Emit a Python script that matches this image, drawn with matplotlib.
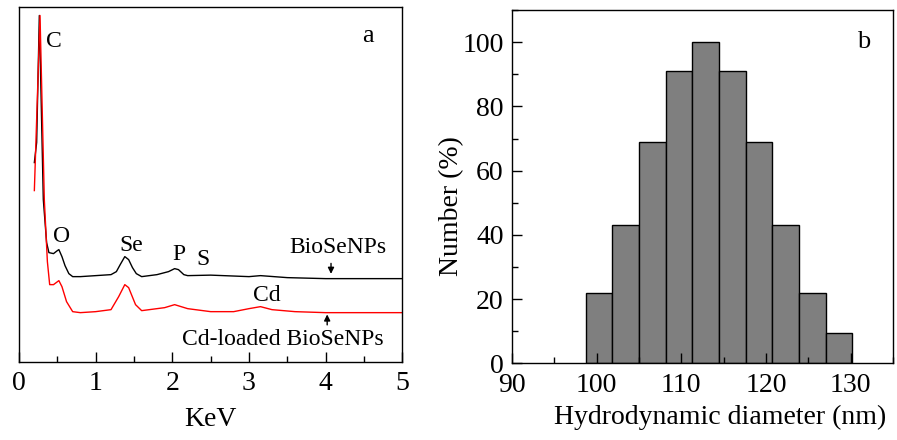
import matplotlib
matplotlib.use("Agg")
import matplotlib.pyplot as plt
from matplotlib.ticker import MultipleLocator

plt.rcParams["font.family"] = ["Liberation Serif", "DejaVu Serif"]

# EDS spectra (arbitrary intensity)
kev_black = [0.20, 0.23, 0.265, 0.317, 0.36, 0.39, 0.45, 0.50, 0.52, 0.56, 0.60, 0.65,
             0.70, 0.80, 1.00, 1.20, 1.27, 1.32, 1.38, 1.43, 1.48, 1.53, 1.60, 1.80,
             1.95, 2.03, 2.08, 2.15, 2.20, 2.50, 3.00, 3.15, 3.50, 4.00, 5.00]
int_black = [199, 219, 346, 162, 119, 109, 108, 111, 112, 105, 96, 88,
             85, 85, 86, 87, 90, 97, 105, 102, 94, 88, 85, 87,
             90, 93, 92, 87, 86, 86.5, 85, 86, 84, 83, 83]

kev_red = [0.20, 0.274, 0.33, 0.37, 0.40, 0.45, 0.52, 0.56, 0.62, 0.70, 0.80, 1.00,
           1.20, 1.30, 1.38, 1.43, 1.52, 1.60, 1.90, 2.03, 2.20, 2.50, 2.80, 3.00,
           3.15, 3.30, 3.60, 4.00, 5.00]
int_red = [171, 346, 162, 100, 77, 77, 81, 75, 60, 50, 49, 50,
           52, 65, 77, 74, 57, 51, 54, 57, 53, 50, 50, 53,
           55, 52, 50, 49, 49]

# size distribution histogram
bin_left = [98.7, 101.85, 105.0, 108.15, 111.3, 114.45, 117.6, 120.75, 123.9, 127.05]
bin_width = 3.15
number_pct = [22, 43, 69, 91, 100, 91, 69, 43, 22, 9.5]

fig = plt.figure(figsize=(8.97, 4.40), dpi=100)
ax1 = fig.add_axes([0.0212, 0.178, 0.4273, 0.805])
ax2 = fig.add_axes([0.5708, 0.174, 0.4247, 0.803])

# ---- panel a ----
ax1.plot(kev_black, int_black, color="black", linewidth=1.0)
ax1.plot(kev_red, int_red, color="#ff0000", linewidth=1.0)
ax1.set_xlim(0, 5)
ax1.set_ylim(0, 354)
ax1.set_yticks([])
ax1.xaxis.set_major_locator(MultipleLocator(1))
ax1.xaxis.set_minor_locator(MultipleLocator(0.5))
ax1.tick_params(axis="x", which="both", direction="in", top=False, labelsize=20, pad=7)
ax1.tick_params(axis="x", which="major", length=7, width=1)
ax1.tick_params(axis="x", which="minor", length=4, width=1)
ax1.set_xlabel("KeV", fontsize=20)
ax1.xaxis.set_label_coords(0.5, -0.128)

fs = 17
ax1.text(0.45, 320, "C", fontsize=fs, ha="center", va="center")
ax1.text(4.55, 325, "a", fontsize=19, ha="center", va="center")
ax1.text(0.56, 125, "O", fontsize=fs, ha="center", va="center")
ax1.text(1.46, 116, "Se", fontsize=fs, ha="center", va="center")
ax1.text(2.09, 107, "P", fontsize=fs, ha="center", va="center")
ax1.text(2.40, 102, "S", fontsize=fs, ha="center", va="center")
ax1.text(4.16, 114, "BioSeNPs", fontsize=fs, ha="center", va="center")
ax1.text(3.23, 66, "Cd", fontsize=fs, ha="center", va="center")
ax1.text(3.44, 22, "Cd-loaded BioSeNPs", fontsize=fs, ha="center", va="center")
arrow = dict(arrowstyle="-|>", color="black", lw=1.0, mutation_scale=9)
ax1.annotate("", xy=(4.07, 85), xytext=(4.07, 101), arrowprops=arrow)
ax1.annotate("", xy=(4.02, 50), xytext=(4.02, 34), arrowprops=arrow)

# ---- panel b ----
ax2.bar(bin_left, number_pct, width=bin_width, align="edge",
        color="#7f7f7f", edgecolor="black", linewidth=1.0)
ax2.set_xlim(90, 135)
ax2.set_ylim(0, 110)
ax2.xaxis.set_major_locator(MultipleLocator(10))
ax2.xaxis.set_minor_locator(MultipleLocator(5))
ax2.yaxis.set_major_locator(MultipleLocator(20))
ax2.yaxis.set_minor_locator(MultipleLocator(10))
ax2.tick_params(which="both", direction="in", top=False, right=False, labelsize=20)
ax2.tick_params(which="major", length=7, width=1)
ax2.tick_params(which="minor", length=4, width=1)
ax2.tick_params(axis="x", pad=7)
ax2.tick_params(axis="y", pad=6)
ax2.set_xlabel("Hydrodynamic diameter (nm)", fontsize=20)
ax2.xaxis.set_label_coords(0.546, -0.118)
ax2.set_ylabel("Number (%)", fontsize=20)
ax2.yaxis.set_label_coords(-0.125, 0.446)
ax2.text(131.5, 100, "b", fontsize=19, ha="center", va="center")

for ax in (ax1, ax2):
    for sp in ax.spines.values():
        sp.set_linewidth(1.0)

fig.savefig("out.png", dpi=100)
